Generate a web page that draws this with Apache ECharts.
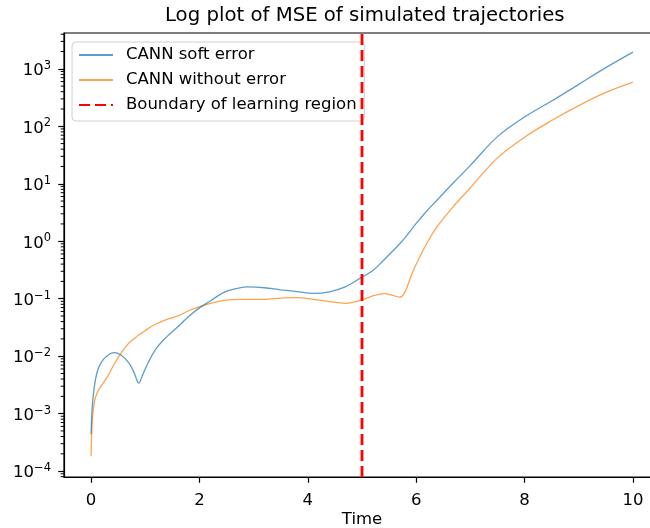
<!DOCTYPE html>
<html>
<head>
<meta charset="utf-8">
<script src="https://cdn.jsdelivr.net/npm/echarts@6/dist/echarts.min.js"></script>
<style>
  html, body { margin: 0; padding: 0; background: #fff; }
  #chart { width: 650px; height: 528px; }
</style>
</head>
<body>
<div id="chart"></div>
<script>
// Simulation times
const timePoints = [0, 0.02, 0.06, 0.12, 0.2, 0.3, 0.42, 0.55, 0.7, 0.8, 0.88, 0.95, 1.05, 1.2, 1.4, 1.6, 1.8, 2.0, 2.2, 2.45, 2.7, 2.9, 3.2, 3.5, 3.8, 4.1, 4.4, 4.7, 5.0, 5.2, 5.4, 5.6, 5.7, 5.8, 5.9, 6.0, 6.2, 6.4, 6.7, 7.0, 7.5, 8.0, 8.5, 9.0, 9.5, 10.0];

// MSE of the CANN trained with soft error
const softErrorMse = [4.37e-4, 1.26e-3, 2.95e-3, 5.62e-3, 8.13e-3, 1.02e-2, 1.15e-2, 1.05e-2, 7.59e-3, 5.01e-3, 3.39e-3, 4.68e-3, 7.59e-3, 1.35e-2, 2.19e-2, 3.24e-2, 4.90e-2, 6.92e-2, 9.12e-2, 0.129, 0.151, 0.160, 0.155, 0.143, 0.133, 0.124, 0.132, 0.162, 0.237, 0.309, 0.468, 0.724, 0.912, 1.17, 1.55, 2.04, 3.39, 5.37, 10.7, 20.9, 66.1, 145, 275, 537, 1047, 1950];

// MSE of the CANN trained without error
const noErrorMse = [1.82e-4, 6.76e-4, 1.58e-3, 2.40e-3, 3.16e-3, 4.37e-3, 7.08e-3, 1.12e-2, 1.70e-2, 2.04e-2, 2.34e-2, 2.57e-2, 3.02e-2, 3.63e-2, 4.37e-2, 5.01e-2, 6.17e-2, 7.24e-2, 8.32e-2, 9.33e-2, 9.77e-2, 9.77e-2, 9.77e-2, 0.102, 0.104, 0.0977, 0.0891, 0.0832, 0.0955, 0.112, 0.123, 0.112, 0.106, 0.135, 0.24, 0.398, 0.933, 1.86, 4.17, 8.51, 28.2, 64.6, 126, 229, 389, 589];

// End of the training interval
const boundaryTime = 5;

// Axis ticks
const xTicks = [0, 2, 4, 6, 8, 10];
const yTicks = [1e-4, 1e-3, 1e-2, 1e-1, 1e0, 1e1, 1e2, 1e3];

const seriesNames = ['CANN soft error', 'CANN without error', 'Boundary of learning region'];

const X_MIN = -0.5, X_MAX = 10.5;
const Y_MIN = 7.9e-5, Y_MAX = 4.2e3;

// plot box in pixels (right edge runs past the canvas)
const GRID = { left: 64, top: 33, right: -10, bottom: 51 };

// minor ticks at 2..9 x 10^k
const yMinorTicks = [];
for (let k = -5; k <= 3; k++) {
  for (let m = 2; m <= 9; m++) {
    const v = m * Math.pow(10, k);
    if (v > Y_MIN && v < Y_MAX) yMinorTicks.push(v);
  }
}
const MINOR_TICK_LEN = 3.3;

const FONT = 'DejaVu Sans';
const supMap = { '-': '\u2212' };
function powLabel(v) {
  const e = Math.round(Math.log10(v));
  const s = String(e).split('').map(c => supMap[c] || c).join('');
  return '{b|10}{e|' + s + '}';
}

const chart = echarts.init(document.getElementById('chart'), null, { renderer: 'canvas' });

chart.setOption({
  animation: false,
  backgroundColor: '#fff',
  title: {
    text: 'Log plot of MSE of simulated trajectories',
    left: 160,
    top: 1,
    textStyle: { fontFamily: FONT, fontSize: 19.7, fontWeight: 'normal', color: '#000' }
  },
  grid: Object.assign({
    show: true, borderColor: '#000', borderWidth: 1.2, backgroundColor: 'transparent',
    outerBoundsMode: 'none', containLabel: false
  }, GRID),
  legend: {
    data: seriesNames,
    orient: 'vertical',
    left: 72,
    top: 42,
    itemWidth: 34,
    itemHeight: 14,
    itemGap: 5,
    padding: [3, 8, 6, 6],
    backgroundColor: 'rgba(255,255,255,0.8)',
    borderColor: '#d0d0d0',
    borderWidth: 1,
    borderRadius: 4,
    itemStyle: { opacity: 0 },
    textStyle: { fontFamily: FONT, fontSize: 16.5, color: '#000', lineHeight: 20, padding: [0, 0, 0, 8] }
  },
  xAxis: {
    type: 'value',
    min: X_MIN,
    max: X_MAX,
    name: 'Time',
    nameLocation: 'middle',
    nameGap: 34,
    nameMoveOverlap: false,
    nameTextStyle: { fontFamily: FONT, fontSize: 16.5, color: '#000' },
    axisLine: { onZero: false, lineStyle: { color: '#000', width: 1.2 } },
    axisTick: { customValues: xTicks, length: 5.8, lineStyle: { color: '#000', width: 1.2 } },
    axisLabel: { customValues: xTicks, margin: 15, fontFamily: FONT, fontSize: 16.5, color: '#000' },
    splitLine: { show: false }
  },
  yAxis: {
    type: 'log',
    min: Y_MIN,
    max: Y_MAX,
    position: 'left',
    axisLine: { show: true, onZero: false, lineStyle: { color: '#000', width: 1.2 } },
    axisTick: { customValues: yTicks, length: 5.8, lineStyle: { color: '#000', width: 1.2 } },
    axisLabel: {
      customValues: yTicks,
      margin: 13,
      formatter: powLabel,
      rich: {
        b: { fontFamily: FONT, fontSize: 16.5, color: '#000', padding: [4, 0, 0, 0] },
        e: { fontFamily: FONT, fontSize: 11.5, color: '#000', padding: [0, 0, 6, 0] }
      }
    },
    splitLine: { show: false }
  },
  series: [
    {
      name: seriesNames[0],
      type: 'line',
      data: timePoints.map((t, i) => [t, softErrorMse[i]]),
      symbol: 'none',
      smooth: 0.35,
      color: '#1f77b4',
      lineStyle: { color: '#1f77b4', width: 1.3, opacity: 0.72 },
      z: 3
    },
    {
      name: seriesNames[1],
      type: 'line',
      data: timePoints.map((t, i) => [t, noErrorMse[i]]),
      symbol: 'none',
      smooth: 0.35,
      color: '#ff7f0e',
      lineStyle: { color: '#ff7f0e', width: 1.3, opacity: 0.72 },
      z: 2
    },
    {
      name: seriesNames[2],
      type: 'line',
      data: [[boundaryTime, Y_MIN], [boundaryTime, Y_MAX]],
      symbol: 'none',
      color: '#ff0000',
      lineStyle: { color: '#ff0000', width: 2.8, type: [11, 5] },
      z: 4
    },
    {
      // minor log ticks on the left spine, placed through the y scale
      name: 'minor ticks',
      type: 'custom',
      silent: true,
      clip: false,
      data: yMinorTicks.map(v => [X_MIN, v]),
      renderItem: function (params, api) {
        const p = api.coord([api.value(0), api.value(1)]);
        return {
          type: 'line',
          shape: { x1: p[0] - MINOR_TICK_LEN, y1: p[1], x2: p[0], y2: p[1] },
          style: { stroke: '#000', lineWidth: 1 }
        };
      },
      z: 5
    }
  ]
});
</script>
</body>
</html>
